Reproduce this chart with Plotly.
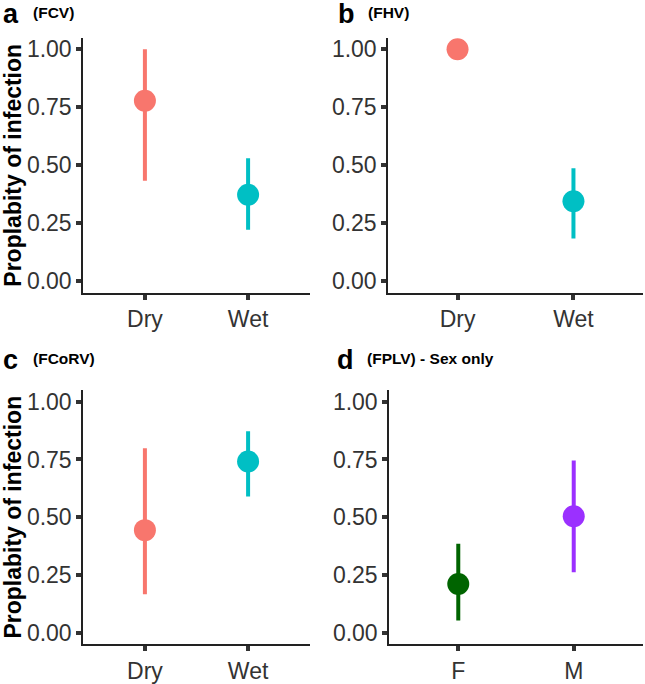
import plotly.graph_objects as go

# ---- data ----
season_cats = ["Dry", "Wet"]
sex_cats = ["F", "M"]

fcv_est = [0.778, 0.373]
fcv_lo = [0.433, 0.222]
fcv_hi = [1.000, 0.530]

fhv_est = [1.000, 0.345]
fhv_lo = [1.000, 0.184]
fhv_hi = [1.000, 0.487]

fcorv_est = [0.444, 0.741]
fcorv_lo = [0.167, 0.590]
fcorv_hi = [0.798, 0.872]

fplv_est = [0.211, 0.504]
fplv_lo = [0.053, 0.262]
fplv_hi = [0.385, 0.745]

season_colors = ["#F8766D", "#00BFC4"]
sex_colors = ["#006400", "#9B30FF"]

panel_letters = ["a", "b", "c", "d"]
panel_titles = ["(FCV)", "(FHV)", "(FCoRV)", "(FPLV) - Sex only"]
y_title = "Proplabity of infection"
y_ticks = [0, 0.25, 0.5, 0.75, 1.0]
y_ticktext = ["0.00", "0.25", "0.50", "0.75", "1.00"]

W, H = 645, 684

# plot area pixel boxes (left, right, top, bottom)
boxes = [(83, 310, 37, 294), (388, 643, 37, 294),
         (83, 310, 392, 648), (389, 643, 392, 648)]

panels = [
    (season_cats, fcv_est, fcv_lo, fcv_hi, season_colors),
    (season_cats, fhv_est, fhv_lo, fhv_hi, season_colors),
    (season_cats, fcorv_est, fcorv_lo, fcorv_hi, season_colors),
    (sex_cats, fplv_est, fplv_lo, fplv_hi, sex_colors),
]

fig = go.Figure()
font_family = "Liberation Sans, Arial, sans-serif"

for i, (cats, est, lo, hi, cols) in enumerate(panels):
    ax = "" if i == 0 else str(i + 1)
    xref = "x" + ax
    yref = "y" + ax
    for j in range(len(cats)):
        fig.add_trace(go.Scatter(
            x=[cats[j]], y=[est[j]],
            mode="markers",
            marker=dict(size=22, color=cols[j], line=dict(width=0)),
            error_y=dict(type="data", symmetric=False,
                         array=[hi[j] - est[j]], arrayminus=[est[j] - lo[j]],
                         color=cols[j], thickness=4, width=0),
            xaxis=xref, yaxis=yref, showlegend=False,
        ))
    l, r, t, b = boxes[i]
    xa = dict(domain=[l / W, r / W], type="category", range=[-0.6, 1.6],
              categoryorder="array", categoryarray=cats,
              showline=True, linecolor="#222", linewidth=1.5,
              ticks="outside", ticklen=5, tickwidth=4, tickcolor="#333",
              tickfont=dict(size=23, color="#333", family=font_family),
              showgrid=False, zeroline=False, anchor=yref,
              fixedrange=True)
    ya = dict(domain=[1 - b / H, 1 - t / H], range=[-0.05, 1.05],
              tickvals=y_ticks, ticktext=y_ticktext,
              showline=True, linecolor="#222", linewidth=1.5,
              ticks="outside", ticklen=5, tickwidth=4, tickcolor="#333",
              tickfont=dict(size=23, color="#333", family=font_family),
              showgrid=False, zeroline=False, anchor=xref,
              fixedrange=True)
    if i in (0, 2):
        ya["title"] = dict(text="<b>" + y_title + "</b>",
                           font=dict(size=23, color="black", family=font_family),
                           standoff=2)
    fig.layout["xaxis" + ax] = xa
    fig.layout["yaxis" + ax] = ya

# panel labels
label_pos = [(1, -4), (336, -4), (1, 345), (335, 345)]
for i, (px, py) in enumerate(label_pos):
    fig.add_annotation(x=px / W, y=1 - py / H, xref="paper", yref="paper",
                       xanchor="left", yanchor="top", showarrow=False,
                       text="<b>" + panel_letters[i] + "</b>",
                       font=dict(size=27, color="black", family=font_family))
    fig.add_annotation(x=(px + 30) / W, y=1 - (py + 5) / H, xref="paper", yref="paper",
                       xanchor="left", yanchor="top", showarrow=False,
                       text="<b>" + panel_titles[i] + "</b>",
                       font=dict(size=15.5, color="black", family=font_family))

fig.update_layout(width=W, height=H, margin=dict(l=0, r=0, t=0, b=0),
                  paper_bgcolor="white", plot_bgcolor="white")

fig.write_html("out.html", config={"displayModeBar": False},
               post_script="document.body.style.margin='0px';")
